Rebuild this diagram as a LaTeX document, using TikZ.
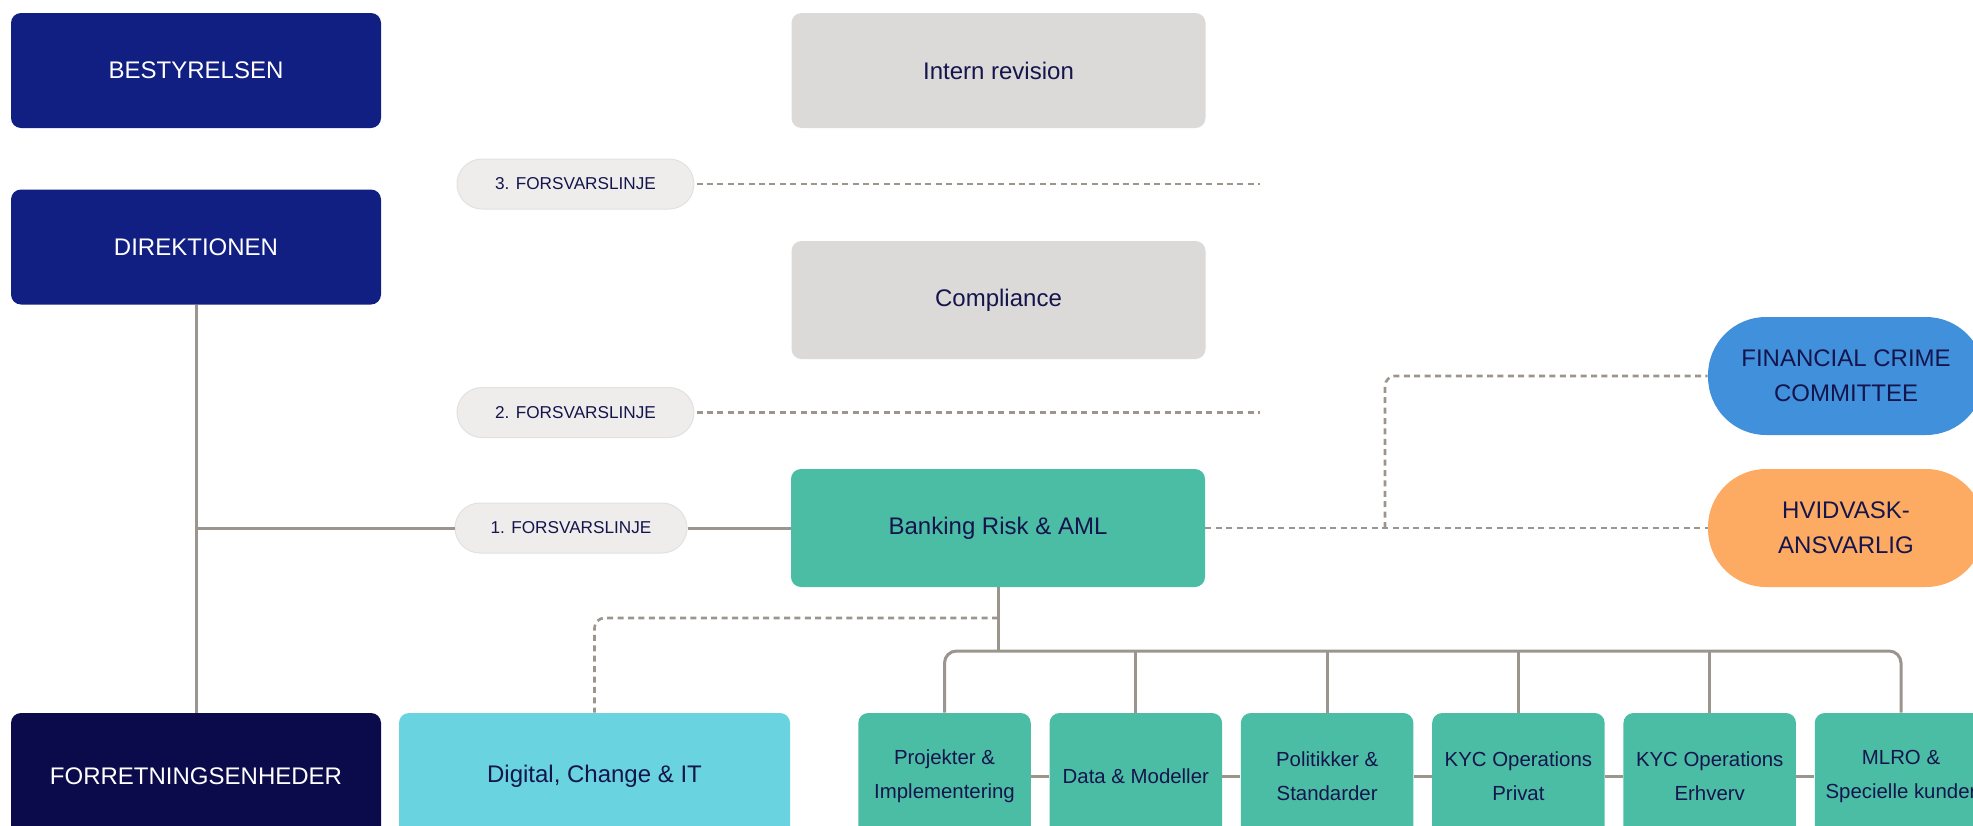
\documentclass[tikz,border=0pt]{standalone}
\usepackage{fontspec}
\setmainfont{Liberation Sans}
\usetikzlibrary{positioning,calc}

\definecolor{navy}{HTML}{111E82}
\definecolor{nightblue}{HTML}{0B0A4A}
\definecolor{greyfill}{HTML}{DBDAD8}
\definecolor{pillfill}{HTML}{EEEDEB}
\definecolor{pillline}{HTML}{E2E1DF}
\definecolor{ink}{HTML}{15154D}
\definecolor{teal}{HTML}{4BBDA5}
\definecolor{cyan}{HTML}{69D3DF}
\definecolor{skyblue}{HTML}{4190DB}
\definecolor{apricot}{HTML}{FDAB62}
\definecolor{linegrey}{HTML}{9C958E}

\tikzset{
	box/.style={rectangle, rounded corners=5pt, align=center, inner sep=2pt,
		font=\fontsize{12}{17.6}\selectfont},
	board/.style={box, fill=navy, text=white, minimum width=185pt, minimum height=57.5pt},
	greybox/.style={box, fill=greyfill, text=ink, minimum width=207pt, minimum height=57.5pt},
	unit/.style={box, fill=teal, text=ink},
	subunit/.style={unit, minimum width=86.25pt, minimum height=63pt,
		font=\fontsize{10.2}{17}\selectfont},
	linepill/.style={rectangle, rounded corners=12.5pt, fill=pillfill, draw=pillline, line width=0.5pt,
		text=ink, minimum height=25pt, font=\fontsize{8.6}{10}\selectfont},
	committee/.style={box, rounded corners=29pt, text=ink, minimum width=138pt, minimum height=59pt},
	link/.style={draw=linegrey, line width=1.5pt},
	dotline/.style={draw=linegrey, line width=1.3pt, dash pattern=on 3pt off 2.2pt},
}

\begin{document}
\begin{tikzpicture}[x=0.5pt, y=-0.5pt]
	\useasboundingbox (0,0) rectangle (1973,825);

	\node[board] (bestyrelsen) at (196,70.5) {BESTYRELSEN};
	\node[board] (direktionen) at (196,247) {DIREKTIONEN};
	\node[board, fill=nightblue, minimum height=63pt] (forretning) at (196,776) {FORRETNINGSENHEDER};

	\node[greybox] (revision) at (998.5,70.5) {Intern revision};
	\node[greybox, minimum height=59pt] (compliance) at (998.5,300) {Compliance};
	\node[unit, minimum width=207pt, minimum height=59pt] (banking) at (998,528) {Banking Risk \& AML};
	\node[box, fill=cyan, text=ink, minimum width=195.5pt, minimum height=63pt] (digital) at (594.5,776) {Digital, Change \& IT};

	\node[linepill, minimum width=118.5pt] (line3) at (575.5,184) {3. FORSVARSLINJE};
	\node[linepill, minimum width=118.5pt] (line2) at (575.5,412.5) {2. FORSVARSLINJE};
	\node[linepill, minimum width=116pt] (line1) at (571,528) {1. FORSVARSLINJE};

	\node[committee, fill=skyblue] (fcc) at (1846,376) {FINANCIAL CRIME\\COMMITTEE};
	\node[committee, fill=apricot] (hvidvask) at (1846,528) {HVIDVASK-\\ANSVARLIG};

	\node[subunit] (projekter) at (944.5,776) {Projekter \&\\Implementering};
	\node[subunit, right=9pt of projekter] (data) {Data \& Modeller};
	\node[subunit, right=9pt of data] (politik) {Politikker \&\\Standarder};
	\node[subunit, right=9pt of politik] (privat) {KYC Operations\\Privat};
	\node[subunit, right=9pt of privat] (erhverv) {KYC Operations\\Erhverv};
	\node[subunit, right=9pt of erhverv] (mlro) {MLRO \&\\Specielle kunder};

	% forsvarslinjer
	\coordinate (junc) at (direktionen.south |- line1);
	\draw[link] (direktionen) -- (forretning);
	\draw[link] (junc) -- (line1);
	\draw[link] (line1) -- (banking);
	\coordinate (end3) at (1260,184);
	\coordinate (end2) at (1260,412.5);
	\draw[dotline, shorten <=1pt] (line3) -- (end3);
	\draw[dotline, shorten <=1pt] (line2) -- (end2);

	% udvalg
	\coordinate (fork) at (1385,528);
	\draw[dotline] (banking) -- (hvidvask);
	\draw[dotline, rounded corners=5pt] (fork) |- (fcc);

	% enheder under Banking Risk & AML
	\coordinate (bus) at (998,651);
	\coordinate (itjoin) at (998,618);
	\draw[dotline, rounded corners=5pt] (itjoin) -- (digital.north |- itjoin) -- (digital.north);
	\draw[link] (banking) -- (bus);
	\draw[link, rounded corners=6pt] (projekter.north) |- (bus) -| (mlro.north);
	\draw[link] (data.north) -- (data.north |- bus);
	\draw[link] (politik.north) -- (politik.north |- bus);
	\draw[link] (privat.north) -- (privat.north |- bus);
	\draw[link] (erhverv.north) -- (erhverv.north |- bus);
	\draw[link] (projekter) -- (data);
	\draw[link] (data) -- (politik);
	\draw[link] (politik) -- (privat);
	\draw[link] (privat) -- (erhverv);
	\draw[link] (erhverv) -- (mlro);
\end{tikzpicture}
\end{document}
